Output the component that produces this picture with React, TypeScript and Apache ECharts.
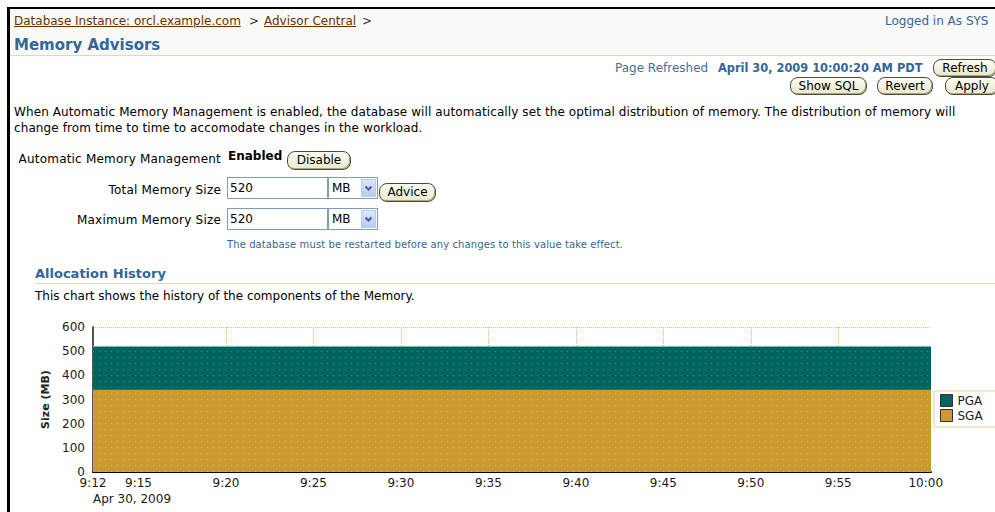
import React, { useEffect, useRef } from "react";
import * as echarts from "echarts";

// ---- data (minutes since midnight) ----
const timeMinutes = [552.4, 600.3]; // 9:12:24 .. 10:00:18
const sgaMB = [340, 340];
const pgaMB = [180, 180];
const xTickMinutes = [555, 560, 565, 570, 575, 580, 585, 590, 595, 600];
const xLabelMinutes = [552.4, ...xTickMinutes];
const legendNames = ["PGA", "SGA"];
const yMin = 0;
const yMax = 600;
const yStep = 100;
const dateLabel = "Apr 30, 2009";

const FONT = '"DejaVu Sans", Verdana, sans-serif';
const BLUE = "#336699";

function makePattern(base: string, dot: string) {
  const c = document.createElement("canvas");
  c.width = 6;
  c.height = 6;
  const ctx = c.getContext("2d")!;
  ctx.fillStyle = base;
  ctx.fillRect(0, 0, 6, 6);
  ctx.fillStyle = dot;
  ctx.fillRect(3, 3, 1, 1);
  return { image: c.toDataURL(), repeat: "repeat", imageWidth: 6, imageHeight: 6 } as any;
}

function fmt(v: number) {
  const h = Math.floor(v / 60);
  const m = Math.floor(v % 60);
  return `${h}:${String(m).padStart(2, "0")}`;
}

function Chart() {
  const ref = useRef<HTMLDivElement>(null);
  useEffect(() => {
    const chart = echarts.init(ref.current!, null, { renderer: "svg" });
    const teal = "#01655f";
    const gold = "#cc9933";
    // PGA is stacked on top of SGA: its area is drawn up to SGA+PGA, SGA drawn over it
    const totalMB = sgaMB.map((v, i) => v + pgaMB[i]);
    chart.setOption({
      animation: false,
      textStyle: { fontFamily: FONT },
      grid: { left: 93, top: 27, width: 838, height: 145, containLabel: false },
      legend: {
        orient: "vertical",
        left: 934,
        top: 91,
        padding: [3, 40, 5, 6],
        itemGap: 2,
        itemWidth: 12,
        itemHeight: 12,
        borderColor: "#dcd89c",
        borderWidth: 1,
        backgroundColor: "#ffffff",
        textStyle: { fontFamily: FONT, fontSize: 12, color: "#1a1a1a" },
        data: [
          { name: legendNames[0], icon: "rect", itemStyle: { color: teal, borderColor: "#333", borderWidth: 1 } },
          { name: legendNames[1], icon: "rect", itemStyle: { color: gold, borderColor: "#333", borderWidth: 1 } },
        ],
      },
      xAxis: {
        type: "value",
        min: timeMinutes[0],
        max: timeMinutes[timeMinutes.length - 1],
        minInterval: 5,
        maxInterval: 5,
        axisLine: { show: true, onZero: false, lineStyle: { color: "#000", width: 2 } },
        axisTick: {
          show: true,
          inside: true,
          length: 3,
          customValues: xTickMinutes,
          lineStyle: { color: "#999" },
        },
        axisLabel: {
          customValues: xLabelMinutes,
          formatter: (v: number) => fmt(v),
          margin: 5,
          fontSize: 12,
          color: "#1a1a1a",
          fontFamily: FONT,
        },
        splitLine: {
          show: true,
          showMinLine: false,
          showMaxLine: false,
          lineStyle: { color: "#d4c860", type: [1, 1], width: 1 },
        },
      },
      yAxis: {
        type: "value",
        min: yMin,
        max: yMax,
        interval: yStep,
        name: "Size (MB)",
        nameLocation: "middle",
        nameGap: 40,
        nameTextStyle: { fontFamily: FONT, fontSize: 11, fontWeight: "bold", color: "#222" },
        axisLine: { show: true, lineStyle: { color: "#555", width: 2 } },
        axisTick: { show: false },
        axisLabel: { margin: 8, fontSize: 12, color: "#1a1a1a", fontFamily: FONT },
        splitLine: { show: true, lineStyle: { color: "#d4c860", type: [1, 1], width: 1 } },
      },
      graphic: [
        {
          type: "text",
          left: 93,
          top: 193,
          style: { text: dateLabel, fontFamily: FONT, fontSize: 12, fill: "#1a1a1a" },
        },
      ],
      series: [
        {
          name: "PGA",
          type: "line",
          showSymbol: false,
          data: timeMinutes.map((t, i) => [t, totalMB[i]]),
          lineStyle: { width: 1, color: "#9fbcbc" },
          itemStyle: { color: teal },
          areaStyle: { color: makePattern(teal, "#3a9050"), opacity: 1 },
          z: 3,
        },
        {
          name: "SGA",
          type: "line",
          showSymbol: false,
          data: timeMinutes.map((t, i) => [t, sgaMB[i]]),
          lineStyle: { width: 0 },
          itemStyle: { color: gold },
          areaStyle: { color: makePattern(gold, "#dcc42c"), opacity: 1 },
          z: 4,
        },
      ],
    });
    return () => chart.dispose();
  }, []);
  // wider than the page so the legend box runs past the right edge, as in the original
  return <div ref={ref} style={{ position: "absolute", left: 0, top: 300, width: 1060, height: 212 }} />;
}

function T(props: { x: number; cy: number; children: any; style?: React.CSSProperties; size?: number }) {
  const size = props.size ?? 12;
  const lh = Math.round(size * 1.2);
  return (
    <div
      style={{
        position: "absolute",
        left: props.x,
        top: props.cy - lh / 2,
        lineHeight: `${lh}px`,
        fontSize: size,
        whiteSpace: "nowrap",
        ...props.style,
      }}
    >
      {props.children}
    </div>
  );
}

function RT(props: { right: number; cy: number; children: any }) {
  return (
    <div
      style={{
        position: "absolute",
        left: 0,
        width: props.right,
        textAlign: "right",
        top: props.cy - 7,
        lineHeight: "14px",
        fontSize: 12,
        letterSpacing: 0.2,
        whiteSpace: "nowrap",
      }}
    >
      {props.children}
    </div>
  );
}

function Btn(props: { x: number; y: number; w: number; h: number; label: string }) {
  return (
    <div
      style={{
        position: "absolute",
        left: props.x,
        top: props.y,
        width: props.w,
        height: props.h,
        boxSizing: "border-box",
        border: "1px solid #4d4a36",
        borderRadius: 8,
        background: "linear-gradient(#fdfdf4, #e9e7cb)",
        boxShadow: "inset -1px -1px 0 #a9a685",
        fontSize: 12,
        lineHeight: `${props.h - 2}px`,
        textAlign: "center",
        color: "#000",
        whiteSpace: "nowrap",
      }}
    >
      {props.label}
    </div>
  );
}

function Input(props: { x: number; y: number; value: string }) {
  return (
    <div
      style={{
        position: "absolute",
        left: props.x,
        top: props.y,
        width: 101,
        height: 22,
        boxSizing: "border-box",
        border: "1px solid #7f9db9",
        background: "#fff",
        fontSize: 12,
        lineHeight: "20px",
        paddingLeft: 2,
      }}
    >
      {props.value}
    </div>
  );
}

function Select(props: { x: number; y: number; value: string }) {
  return (
    <div
      style={{
        position: "absolute",
        left: props.x,
        top: props.y,
        width: 50,
        height: 22,
        boxSizing: "border-box",
        border: "1px solid #7f9db9",
        background: "#fff",
        fontSize: 12,
        lineHeight: "20px",
        paddingLeft: 3,
      }}
    >
      {props.value}
      <div
        style={{
          position: "absolute",
          right: 1,
          top: 1,
          width: 15,
          height: 18,
          background: "linear-gradient(#dbe6fd, #b6cbf8)",
          border: "1px solid #b9ccf3",
          boxSizing: "border-box",
        }}
      >
        <svg width="13" height="16" style={{ position: "absolute", left: 0, top: 0 }}>
          <polyline points="3.5,6.5 6.5,9.5 9.5,6.5" fill="none" stroke="#4d6185" strokeWidth="2" />
        </svg>
      </div>
    </div>
  );
}

export default function App() {
  const brown = "#663300";
  return (
    <div
      style={{
        position: "absolute",
        left: 0,
        top: 0,
        width: 995,
        height: 512,
        overflow: "hidden",
        background: "#fff",
        fontFamily: FONT,
        fontSize: 12,
        color: "#000",
      }}
    >
      {/* header background */}
      <div style={{ position: "absolute", left: 10, top: 9, width: 985, height: 46, background: "#f9faf6" }} />
      <div style={{ position: "absolute", left: 10, top: 55, width: 985, height: 1, background: "#d6dac4" }} />
      {/* black frame */}
      <div style={{ position: "absolute", left: 7, top: 7, width: 988, height: 2, background: "#000" }} />
      <div style={{ position: "absolute", left: 7, top: 7, width: 3, height: 505, background: "#000" }} />

      {/* breadcrumb */}
      <T x={14} cy={21} style={{ color: brown, textDecoration: "underline" }}>
        Database Instance: orcl.example.com
      </T>
      <T x={249} cy={21} style={{ color: "#333" }}>
        &gt;
      </T>
      <T x={264} cy={21} style={{ color: brown, textDecoration: "underline" }}>
        Advisor Central
      </T>
      <T x={362} cy={21} style={{ color: "#333" }}>
        &gt;
      </T>
      <T x={885} cy={21} style={{ color: BLUE }}>
        Logged in As SYS
      </T>
      <T x={14} cy={45} size={15} style={{ color: BLUE, fontWeight: "bold" }}>
        Memory Advisors
      </T>

      {/* refresh row */}
      <T x={615} cy={68} style={{ color: "#4a6d94" }}>
        Page Refreshed
      </T>
      <T x={718} cy={68} size={11.4} style={{ color: BLUE, fontWeight: "bold" }}>
        April 30, 2009 10:00:20 AM PDT
      </T>
      <Btn x={933} y={59} w={64} h={18} label="Refresh" />
      <Btn x={790} y={77} w={77} h={18} label="Show SQL" />
      <Btn x={877} y={77} w={56} h={18} label="Revert" />
      <Btn x={945} y={77} w={54} h={18} label="Apply" />

      {/* description */}
      <T x={14} cy={112} style={{ letterSpacing: 0.1 }}>
        When Automatic Memory Management is enabled, the database will automatically set the optimal distribution of
        memory. The distribution of memory will
      </T>
      <T x={14} cy={128} style={{ letterSpacing: 0.1 }}>
        change from time to time to accomodate changes in the workload.
      </T>

      {/* form */}
      <RT right={221} cy={159}>
        Automatic Memory Management
      </RT>
      <T x={228} cy={156} style={{ fontWeight: "bold" }}>
        Enabled
      </T>
      <Btn x={287} y={151} w={64} h={19} label="Disable" />

      <RT right={221} cy={190}>
        Total Memory Size
      </RT>
      <Input x={227} y={177} value="520" />
      <Select x={328} y={177} value="MB" />
      <Btn x={379} y={183} w={57} h={19} label="Advice" />

      <RT right={221} cy={220}>
        Maximum Memory Size
      </RT>
      <Input x={227} y={208} value="520" />
      <Select x={328} y={208} value="MB" />

      <T x={227} cy={245} size={10} style={{ color: BLUE, letterSpacing: 0.1 }}>
        The database must be restarted before any changes to this value take effect.
      </T>

      {/* allocation history */}
      <T x={35} cy={274} size={13} style={{ color: BLUE, fontWeight: "bold" }}>
        Allocation History
      </T>
      <div style={{ position: "absolute", left: 35, top: 283, width: 960, height: 1, background: "#dcdcb4" }} />
      <T x={35} cy={296}>
        This chart shows the history of the components of the Memory.
      </T>

      <Chart />
    </div>
  );
}
